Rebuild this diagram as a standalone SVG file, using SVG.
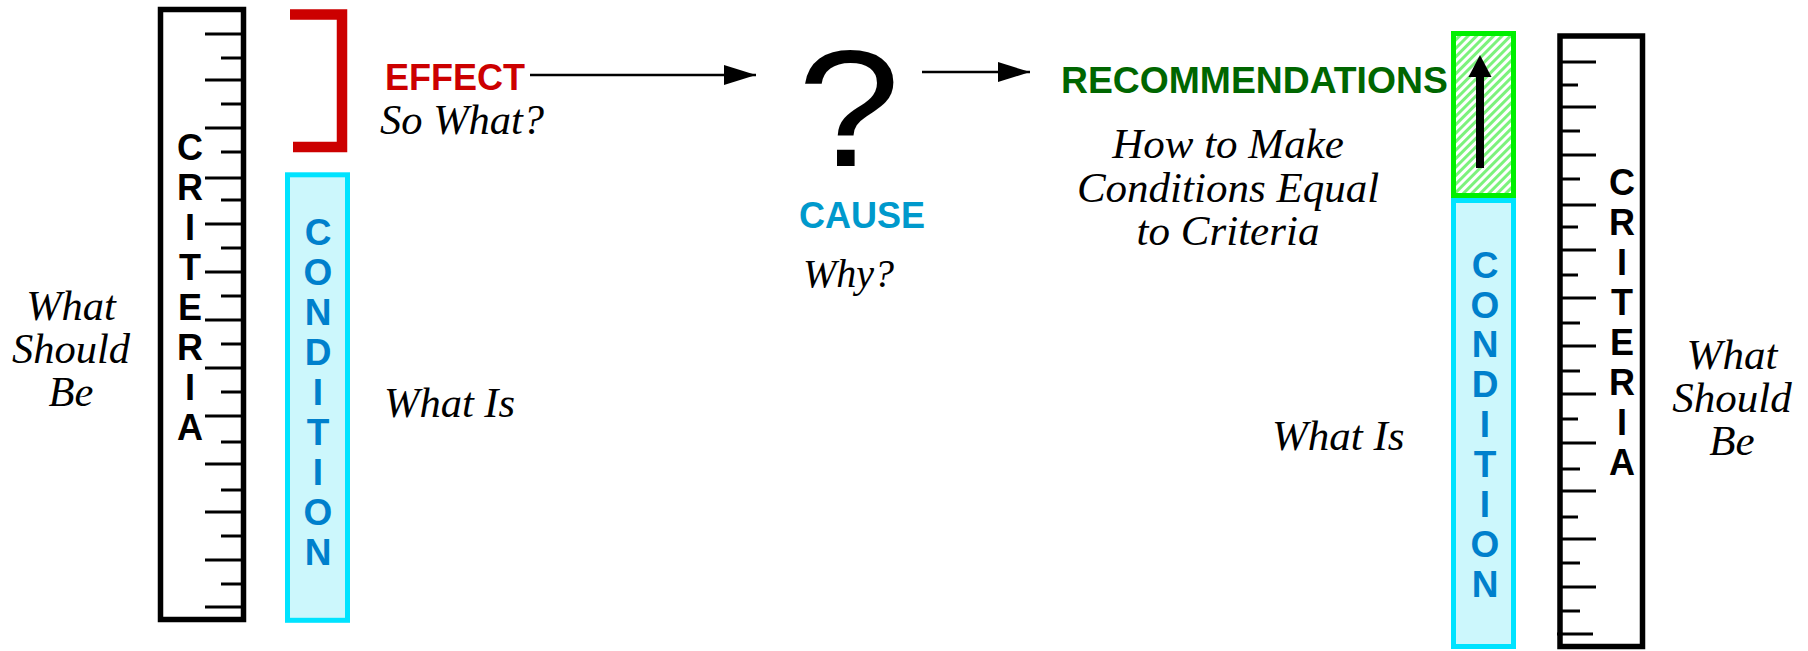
<svg xmlns="http://www.w3.org/2000/svg" width="1808" height="651" viewBox="0 0 1808 651">
<style>
.crit{font-family:"Liberation Sans",Arial,sans-serif;font-weight:bold;font-size:36px;fill:#000;text-anchor:middle}
.cond{font-family:"Liberation Sans",Arial,sans-serif;font-weight:bold;font-size:37px;fill:#0080CC;text-anchor:middle}
.it{font-family:"Liberation Serif","Times New Roman",serif;font-style:italic;fill:#000}
.lbl{font-family:"Liberation Sans",Arial,sans-serif;font-weight:bold}
.tick{stroke:#000;stroke-width:3}
.ruler{fill:#fff;stroke:#000;stroke-width:5.5}
.condbox{fill:#CCF7FC;stroke:#00E3FF;stroke-width:5}
.conn{stroke:#000;stroke-width:2.5;fill:none}
</style>
<defs>
<marker id="ah" markerUnits="userSpaceOnUse" markerWidth="32" markerHeight="20" refX="32" refY="10" orient="auto">
<path d="M0,0 L32,10 L0,20 Z" fill="#000"/>
</marker>
<pattern id="hatch" patternUnits="userSpaceOnUse" width="6" height="6" patternTransform="rotate(45)">
<rect width="6" height="6" fill="#fff"/>
<rect width="3" height="6" fill="#7CF27C"/>
</pattern>
</defs>

<g id="left-criteria">
<rect class="ruler" x="160.5" y="9.5" width="83" height="610"/>
<g class="tick">
<line x1="205" y1="34" x2="241" y2="34"/><line x1="221" y1="58" x2="241" y2="58"/>
<line x1="205" y1="80" x2="241" y2="80"/><line x1="221" y1="104" x2="241" y2="104"/>
<line x1="205" y1="128" x2="241" y2="128"/><line x1="221" y1="152" x2="241" y2="152"/>
<line x1="205" y1="178" x2="241" y2="178"/><line x1="221" y1="200" x2="241" y2="200"/>
<line x1="205" y1="224" x2="241" y2="224"/><line x1="221" y1="248" x2="241" y2="248"/>
<line x1="205" y1="272" x2="241" y2="272"/><line x1="221" y1="296" x2="241" y2="296"/>
<line x1="205" y1="320" x2="241" y2="320"/><line x1="221" y1="344" x2="241" y2="344"/>
<line x1="205" y1="368" x2="241" y2="368"/><line x1="221" y1="392" x2="241" y2="392"/>
<line x1="205" y1="416" x2="241" y2="416"/><line x1="221" y1="442" x2="241" y2="442"/>
<line x1="205" y1="464" x2="241" y2="464"/><line x1="221" y1="490" x2="241" y2="490"/>
<line x1="205" y1="512" x2="241" y2="512"/><line x1="221" y1="536" x2="241" y2="536"/>
<line x1="205" y1="560" x2="241" y2="560"/><line x1="221" y1="584" x2="241" y2="584"/>
<line x1="205" y1="607" x2="241" y2="607"/>
</g>
<text class="crit" x="190" y="160">C</text>
<text class="crit" x="190" y="200">R</text>
<text class="crit" x="190" y="240">I</text>
<text class="crit" x="190" y="280">T</text>
<text class="crit" x="190" y="320">E</text>
<text class="crit" x="190" y="360">R</text>
<text class="crit" x="190" y="400">I</text>
<text class="crit" x="190" y="440">A</text>
</g>

<g id="left-what-should-be" class="it" style="font-size:42.5px" text-anchor="middle">
<text x="71" y="320">What</text>
<text x="71" y="363">Should</text>
<text x="71" y="406">Be</text>
</g>

<g id="effect-bracket">
<path d="M290,14.5 H342 V147 H293" fill="none" stroke="#CC0000" stroke-width="10.5"/>
</g>

<g id="left-condition">
<rect class="condbox" x="287.5" y="174.8" width="60" height="445.5"/>
<text class="cond" x="318" y="245">C</text>
<text class="cond" x="318" y="285">O</text>
<text class="cond" x="318" y="325">N</text>
<text class="cond" x="318" y="365">D</text>
<text class="cond" x="318" y="405">I</text>
<text class="cond" x="318" y="445">T</text>
<text class="cond" x="318" y="485">I</text>
<text class="cond" x="318" y="525">O</text>
<text class="cond" x="318" y="565">N</text>
</g>

<g id="left-what-is">
<text class="it" x="384" y="417" style="font-size:42.5px">What Is</text>
</g>

<g id="effect">
<text class="lbl" x="385" y="90" fill="#CC0000" style="font-size:36px">EFFECT</text>
<text class="it" x="380" y="134" style="font-size:42.5px">So What?</text>
</g>

<g id="cause">
<text x="849" y="166" font-family="Liberation Sans,Arial,sans-serif" font-size="165" text-anchor="middle" transform="translate(849,0) scale(1.12,1) translate(-849,0)">?</text>
<text class="lbl" x="799" y="228" fill="#0099CC" style="font-size:36px">CAUSE</text>
<text class="it" x="803" y="287" style="font-size:40px">Why?</text>
</g>

<g id="recommendations">
<text class="lbl" x="1061" y="92.5" fill="#006600" style="font-size:37.3px">RECOMMENDATIONS</text>
<g class="it" style="font-size:43px" text-anchor="middle">
<text x="1228" y="158">How to Make</text>
<text x="1228" y="202">Conditions Equal</text>
<text x="1228" y="245">to Criteria</text>
</g>
</g>

<g id="right-target">
<rect x="1453.5" y="33.5" width="60" height="162" fill="url(#hatch)" stroke="#00F000" stroke-width="5"/>
<rect x="1476" y="74" width="8" height="94" fill="#000"/>
<polygon points="1480,55 1468.5,77 1491.5,77" fill="#000"/>
</g>

<g id="right-condition">
<rect class="condbox" x="1453.5" y="200.5" width="60" height="446"/>
<text class="cond" x="1485" y="278">C</text>
<text class="cond" x="1485" y="318">O</text>
<text class="cond" x="1485" y="357">N</text>
<text class="cond" x="1485" y="397">D</text>
<text class="cond" x="1485" y="437">I</text>
<text class="cond" x="1485" y="477">T</text>
<text class="cond" x="1485" y="517">I</text>
<text class="cond" x="1485" y="557">O</text>
<text class="cond" x="1485" y="597">N</text>
</g>

<g id="right-what-is">
<text class="it" x="1272" y="450" style="font-size:43px">What Is</text>
</g>

<g id="right-criteria">
<rect class="ruler" x="1560" y="36" width="82.5" height="610.5"/>
<g class="tick">
<line x1="1562" y1="62" x2="1596" y2="62"/><line x1="1558" y1="85" x2="1578" y2="85"/>
<line x1="1562" y1="107" x2="1596" y2="107"/><line x1="1562" y1="131" x2="1580" y2="131"/>
<line x1="1562" y1="155" x2="1596" y2="155"/><line x1="1562" y1="179" x2="1580" y2="179"/>
<line x1="1562" y1="205" x2="1596" y2="205"/><line x1="1562" y1="227" x2="1578" y2="227"/>
<line x1="1562" y1="250" x2="1596" y2="250"/><line x1="1558" y1="275" x2="1578" y2="275"/>
<line x1="1562" y1="298" x2="1596" y2="298"/><line x1="1562" y1="323" x2="1580" y2="323"/>
<line x1="1562" y1="346" x2="1596" y2="346"/><line x1="1562" y1="371" x2="1580" y2="371"/>
<line x1="1562" y1="394" x2="1596" y2="394"/><line x1="1562" y1="419" x2="1578" y2="419"/>
<line x1="1562" y1="443" x2="1596" y2="443"/><line x1="1562" y1="469" x2="1580" y2="469"/>
<line x1="1562" y1="491" x2="1596" y2="491"/><line x1="1562" y1="517" x2="1578" y2="517"/>
<line x1="1562" y1="539" x2="1596" y2="539"/><line x1="1562" y1="563" x2="1580" y2="563"/>
<line x1="1562" y1="587" x2="1596" y2="587"/><line x1="1562" y1="611" x2="1580" y2="611"/>
<line x1="1557" y1="634" x2="1593" y2="634"/>
</g>
<text class="crit" x="1622" y="195">C</text>
<text class="crit" x="1622" y="235">R</text>
<text class="crit" x="1622" y="275">I</text>
<text class="crit" x="1622" y="315">T</text>
<text class="crit" x="1622" y="355">E</text>
<text class="crit" x="1622" y="395">R</text>
<text class="crit" x="1622" y="435">I</text>
<text class="crit" x="1622" y="475">A</text>
</g>

<g id="right-what-should-be" class="it" style="font-size:43px" text-anchor="middle">
<text x="1732" y="369">What</text>
<text x="1732" y="412">Should</text>
<text x="1732" y="455">Be</text>
</g>

<g id="connectors">
<line class="conn" x1="530" y1="75" x2="756" y2="75" marker-end="url(#ah)"/>
<line class="conn" x1="922" y1="72" x2="1030" y2="72" marker-end="url(#ah)"/>
</g>
</svg>
